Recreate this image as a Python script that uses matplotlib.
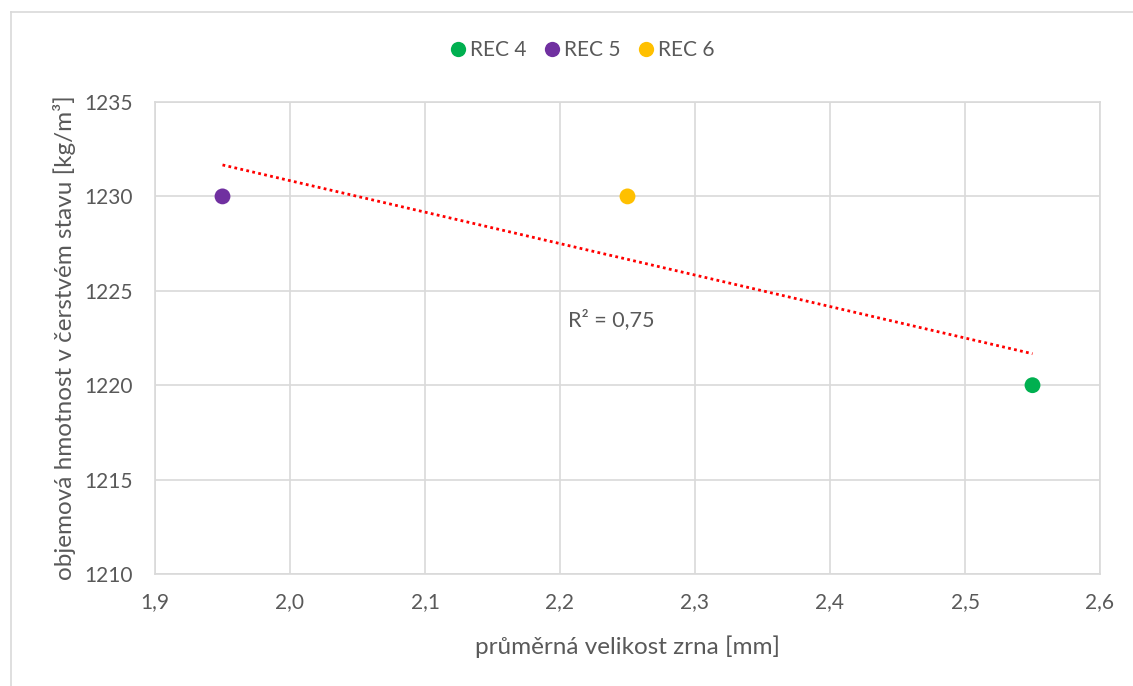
import numpy as np
import matplotlib.pyplot as plt
from matplotlib.lines import Line2D

# data
nazvy = ['REC 4', 'REC 5', 'REC 6']
zrno = [2.55, 1.95, 2.25]          # průměrná velikost zrna [mm]
hmotnost = [1220, 1230, 1230]      # objemová hmotnost [kg/m3]
barvy = ['#00B050', '#7030A0', '#FFC000']

x_ticks = [1.9, 2.0, 2.1, 2.2, 2.3, 2.4, 2.5, 2.6]
y_ticks = [1210, 1215, 1220, 1225, 1230, 1235]

plt.rcParams['font.family'] = ['Lato', 'DejaVu Sans']
seda = '#595959'

fig = plt.figure(figsize=(11.33, 6.86), dpi=100)
ax = fig.add_axes([155 / 1133, 1 - 574 / 686, 945 / 1133, 472 / 686])

# border of the chart area
fig.add_artist(Line2D([11 / 1133, 11 / 1133], [0, 1 - 12 / 686], transform=fig.transFigure,
                      color='#d9d9d9', lw=1.2))
fig.add_artist(Line2D([11 / 1133, 1], [1 - 12 / 686, 1 - 12 / 686], transform=fig.transFigure,
                      color='#d9d9d9', lw=1.2))

# linear trendline
k, q = np.polyfit(zrno, hmotnost, 1)
xt = np.array([min(zrno), max(zrno)])
ax.plot(xt, k * xt + q, color='#FF0000', lw=2, ls=(0, (1, 1.2)), zorder=2)
pred = k * np.array(zrno) + q
r2 = 1 - np.sum((np.array(hmotnost) - pred) ** 2) / np.sum((np.array(hmotnost) - np.mean(hmotnost)) ** 2)
ax.text(2.206, 1223.45, 'R² = ' + f'{r2:.2f}'.replace('.', ','), fontsize=15.5, color=seda, va='center')

for n, xv, yv, c in zip(nazvy, zrno, hmotnost, barvy):
    ax.scatter([xv], [yv], s=130, color=c, label=n, zorder=3, edgecolors='none')

ax.set_xlim(1.9, 2.6)
ax.set_ylim(1210, 1235)
ax.set_xticks(x_ticks)
ax.set_yticks(y_ticks)
ax.set_xticklabels([f'{v:.1f}'.replace('.', ',') for v in x_ticks])
ax.set_yticklabels([str(v) for v in y_ticks])
ax.tick_params(length=0, labelsize=15, colors=seda)
ax.tick_params(axis='y', pad=16)
ax.tick_params(axis='x', pad=13)
ax.grid(True, color='#d9d9d9', lw=1.2)
ax.set_axisbelow(True)
for s in ax.spines.values():
    s.set_color('#d9d9d9')
    s.set_linewidth(1.2)

ax.set_xlabel('průměrná velikost zrna [mm]', fontsize=17.5, color=seda, labelpad=17)
ax.set_ylabel('objemová hmotnost v čerstvém stavu [kg/m³]', fontsize=17.5, color=seda, labelpad=6)

handles = [Line2D([], [], ls='none', marker='o', markersize=11, color=c, markeredgewidth=0)
           for c in barvy]
fig.legend(handles, nazvy, loc='center', bbox_to_anchor=(582 / 1133, 1 - 50 / 686), ncol=3,
           frameon=False, fontsize=15, labelcolor=seda, handlelength=0.8,
           handletextpad=0.2, columnspacing=0.8)

fig.savefig('out.png', dpi=100)
